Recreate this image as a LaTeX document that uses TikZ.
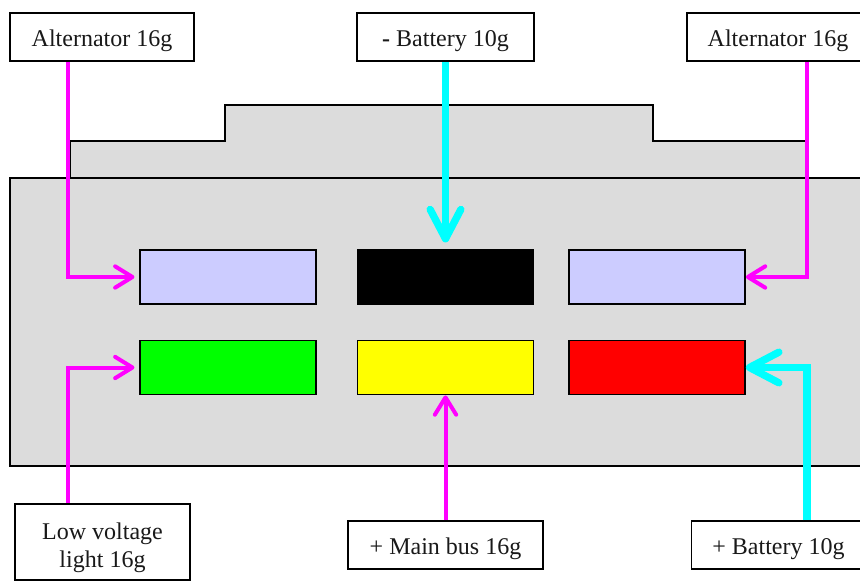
\documentclass[tikz,border=0pt]{standalone}
\usepackage{fontspec}
\setmainfont{Liberation Serif}
\usetikzlibrary{arrows.meta}
\definecolor{bodygrey}{RGB}{220,220,220}
\definecolor{pinblue}{RGB}{204,204,255}
\definecolor{wiremag}{RGB}{255,0,255}
\definecolor{wirecyan}{RGB}{0,255,255}
\definecolor{pingreen}{RGB}{0,255,0}
\definecolor{pinyellow}{RGB}{255,255,0}
\definecolor{pinred}{RGB}{255,0,0}
\tikzset{
  x=0.75pt,y=-0.75pt,
  label box/.style={draw=black,line width=1.3pt,fill=white,align=center,inner sep=0pt,font=\fontsize{18}{21}\selectfont,text=black!90,execute at begin node={\rule{0pt}{18pt}}},
  pin/.style={draw=black,line width=1.3pt,minimum width=132pt,minimum height=40.5pt,inner sep=0pt},
  housing/.style={draw=black,line width=1.3pt,fill=bodygrey},
  thin wire/.style={draw=wiremag,line width=3pt,line join=miter,-{Straight Barb[length=13pt,width=16pt,line width=3pt,round]}},
  thick wire/.style={draw=wirecyan,line width=5.5pt,line join=miter,-{Straight Barb[length=22pt,width=23pt,line width=5.5pt,round]}}
}
\begin{document}
\begin{tikzpicture}
\useasboundingbox (0,0) rectangle (860,581);
\clip (0,0) rectangle (860,581);
% housing
\path[housing] (70,178) -- (70,141) -- (225,141) -- (225,105) -- (653,105) -- (653,141) -- (807,141) -- (807,178) -- cycle;
\path[housing] (10,178) rectangle (866,466);
% pins
\node[pin,fill=pinblue] (p1) at (228,277) {};
\node[pin,fill=black] (p2) at (445.5,277) {};
\node[pin,fill=pinblue] (p3) at (657,277) {};
\node[pin,fill=pingreen] (p4) at (228,367.5) {};
\node[pin,fill=pinyellow] (p5) at (445.5,367.5) {};
\node[pin,fill=pinred] (p6) at (657,367.5) {};
% corners of wires
\coordinate (kA) at (68,277);
\coordinate (kB) at (807,277);
\coordinate (kC) at (68,367.5);
\coordinate (kD) at (807,367.5);
% labels
\node[label box,minimum width=138pt,minimum height=36pt] (a1) at (102,37) {Alternator 16g};
\node[label box,minimum width=132.75pt,minimum height=36pt] (a2) at (445.5,37) {\textbf{-} Battery 10g};
\node[label box,minimum width=137pt,minimum height=36pt] (a3) at (778,37) {Alternator 16g};
\node[label box,minimum width=131.25pt,minimum height=57pt] (b1) at (102.5,542) {\rule{0pt}{20.5pt}Low voltage\\light 16g};
\node[label box,minimum width=146.25pt,minimum height=36pt] (b2) at (445.5,545) {+ Main bus 16g};
\node[label box,minimum width=130.5pt,minimum height=36pt] (b3) at (778.5,545) {+ Battery 10g};
% wires
\draw[thin wire,shorten >=3.5pt] (a1.south -| kA) |- (p1.west);
\draw[thin wire] (a3.south -| kB) |- (p3.east);
\draw[thin wire,shorten >=3.5pt] (b1.north -| kC) |- (p4.west);
\draw[thin wire] (b2.north) -- (p5.south);
\draw[thick wire,shorten >=5pt] (a2.south) -- (p2.north);
\draw[thick wire] (b3.north -| kD) |- (p6.east);
\end{tikzpicture}
\end{document}
